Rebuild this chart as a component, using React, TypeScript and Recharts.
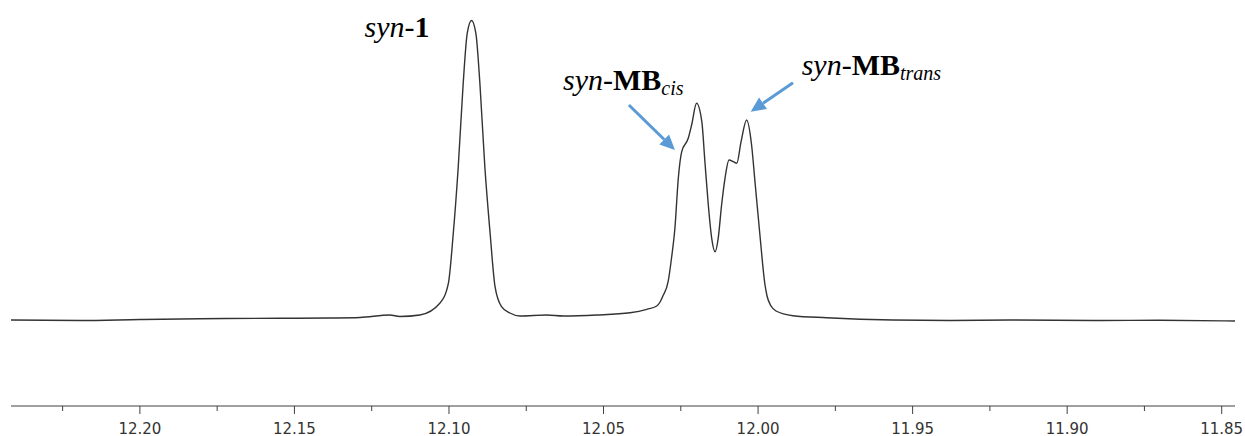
import { LineChart, Line, XAxis, YAxis, ReferenceLine, ReferenceDot } from "recharts";

// chemical shift (ppm) and intensity
const shifts = [
  12.2417, 12.2194, 12.2, 12.1806, 12.1547, 12.1385, 12.1288, 12.1191, 12.1159, 12.1094,
  12.1029, 12.1002, 12.0986, 12.097, 12.0954, 12.0941, 12.0927, 12.0913, 12.09, 12.0884,
  12.0867, 12.0851, 12.083, 12.0803, 12.077, 12.0684, 12.063, 12.0522, 12.0414, 12.036,
  12.0328, 12.0317, 12.0308, 12.0291, 12.028, 12.0269, 12.0258, 12.0247, 12.0226, 12.0215,
  12.0199, 12.0182, 12.0172, 12.0161, 12.015, 12.0139, 12.0129, 12.0118, 12.0107, 12.0094,
  12.008, 12.0069, 12.0055, 12.0037, 12.0021, 12.001, 11.9994, 11.9978, 11.9971, 11.9958,
  11.9942, 11.9887, 11.9778, 11.9564, 11.9379, 11.9185, 11.8894, 11.87, 11.8457,
];
const intensity = [
  86, 85.5, 86.5, 87.3, 87.7, 88, 88.5, 91, 89.5, 91,
  103, 122.7, 173, 239.3, 322.7, 372.7, 385.5, 372.7, 322.7, 239.3,
  173, 119.3, 99.3, 93, 90, 91, 90, 91, 93.3, 96.7,
  100, 104, 110, 124.3, 148, 178, 228, 254.3, 267.7, 281,
  302.7, 284.3, 244.3, 201, 167.7, 154.3, 167.7, 201, 227.7, 246,
  244.3, 242.7, 264.3, 286, 261, 224.3, 171, 122, 110, 100,
  95, 90.3, 88.3, 86, 85.5, 86, 85.5, 85.7, 85,
];

const tickValues = [12.225, 12.2, 12.175, 12.15, 12.125, 12.1, 12.075, 12.05, 12.025, 12.0, 11.975, 11.95, 11.925, 11.9, 11.875, 11.85];
const majorTicks = ["12.20", "12.15", "12.10", "12.05", "12.00", "11.95", "11.90", "11.85"];

const spectrum = shifts.map((ppm, i) => ({ ppm, value: intensity[i] }));

const ARROW = "#5b9bd5";

const renderTick = (props: any) => {
  const { x, y, payload } = props;
  const label = payload.value.toFixed(2);
  const major = majorTicks.includes(label);
  return (
    <g>
      <line x1={x} x2={x} y1={y} y2={y + (major ? 8 : 5)} stroke="#404040" strokeWidth={1} />
      {major && (
        <text x={x} y={y + 27.5} textAnchor="middle" fontFamily="DejaVu Sans" fontSize={15} fill="#333">
          {label}
        </text>
      )}
    </g>
  );
};

// line with a filled head at the second point
const renderArrow = (props: any) => {
  const { x1, y1, x2, y2 } = props;
  const a = Math.atan2(y2 - y1, x2 - x1);
  const len = 15;
  const half = 7;
  const bx = x2 - len * Math.cos(a);
  const by = y2 - len * Math.sin(a);
  const px = -Math.sin(a) * half;
  const py = Math.cos(a) * half;
  return (
    <g>
      <line x1={x1} y1={y1} x2={bx} y2={by} stroke={ARROW} strokeWidth={3} />
      <polygon points={`${x2},${y2} ${bx + px},${by + py} ${bx - px},${by - py}`} fill={ARROW} />
    </g>
  );
};

const labelText = (sub: string | null, bold: string) => (props: any) => (
  <text x={props.cx} y={props.cy} fontFamily="Liberation Serif" fontSize={30} fill="#000">
    <tspan fontStyle="italic">syn</tspan>
    <tspan>-</tspan>
    <tspan fontWeight="bold">{bold}</tspan>
    {sub && (
      <tspan fontStyle="italic" fontSize={20} dy={5}>
        {sub}
      </tspan>
    )}
  </text>
);

export default function App() {
  return (
    <div style={{ position: "absolute", left: 0, top: 0, width: 1245, height: 436, background: "#fff" }}>
      <LineChart width={1245} height={436} data={spectrum} margin={{ top: 0, right: 10, left: 11, bottom: 0 }}>
        <XAxis
          dataKey="ppm"
          type="number"
          domain={[11.8457, 12.2417]}
          reversed
          allowDataOverflow
          ticks={tickValues}
          interval={0}
          height={30}
          tickSize={0}
          tickMargin={0}
          tickLine={false}
          tick={renderTick}
          axisLine={{ stroke: "#404040", strokeWidth: 1 }}
        />
        <YAxis hide domain={[0, 406]} allowDataOverflow />
        <Line
          type="monotone"
          dataKey="value"
          stroke="#333"
          strokeWidth={1.4}
          dot={false}
          activeDot={false}
          isAnimationActive={false}
        />
        <ReferenceLine
          segment={[{ x: 12.0418, y: 301 }, { x: 12.0269, y: 256 }]}
          shape={renderArrow}
        />
        <ReferenceLine
          segment={[{ x: 11.9887, y: 323.3 }, { x: 12.0024, y: 294.3 }]}
          shape={renderArrow}
        />
        <ReferenceDot x={12.1273} y={369.5} r={0} shape={labelText(null, "1")} />
        <ReferenceDot x={12.0631} y={316} r={0} shape={labelText("cis", "MB")} />
        <ReferenceDot x={11.9859} y={331} r={0} shape={labelText("trans", "MB")} />
      </LineChart>
    </div>
  );
}
